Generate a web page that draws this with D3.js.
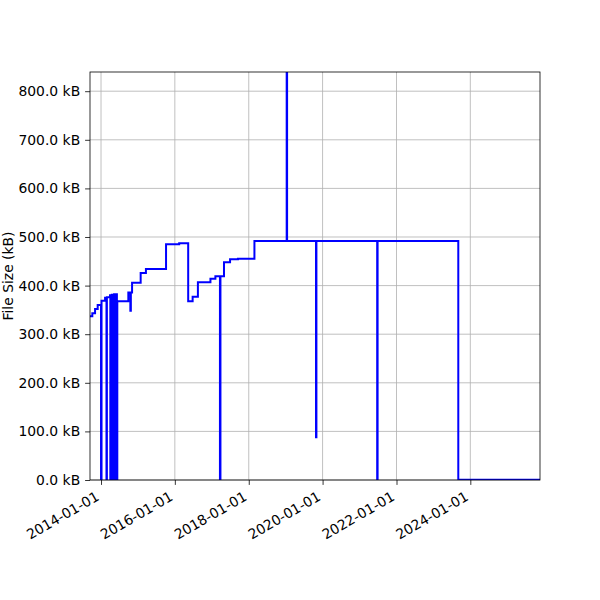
<!DOCTYPE html>
<html>
<head>
<meta charset="utf-8">
<script src="https://cdn.jsdelivr.net/npm/d3@7"></script>
<style>
    body { margin: 0; background: #ffffff; }
    text { font-family: "DejaVu Sans", sans-serif; }
</style>
</head>
<body>
<div id="chart"></div>
<script>
// file size history (kB)
const dates = [
    "2013-09-14", "2013-10-07", "2013-11-03", "2013-11-29", "2014-01-01", "2014-01-06",
    "2014-02-10", "2014-02-24", "2014-02-28", "2014-03-31", "2014-04-03", "2014-04-07",
    "2014-04-14", "2014-04-18", "2014-04-25", "2014-04-29", "2014-05-06", "2014-05-10",
    "2014-05-17", "2014-05-21", "2014-05-28", "2014-06-01", "2014-06-07", "2014-06-11",
    "2014-09-28", "2014-10-18", "2014-10-23", "2014-11-04", "2015-01-28", "2015-03-21",
    "2015-10-06", "2016-02-13", "2016-05-12", "2016-06-25", "2016-08-16", "2016-12-18",
    "2017-02-05", "2017-03-22", "2017-03-27", "2017-05-01", "2017-06-30", "2017-09-16",
    "2018-02-26", "2019-01-11", "2019-01-15", "2019-10-28", "2019-11-01", "2021-06-24",
    "2021-06-28", "2023-09-04", "2025-11-20"
];
const sizes = [
    337, 343, 352, 360, 0, 369,
    375, 0, 376, 380, 0, 380,
    0, 381, 0, 381, 0, 382,
    0, 382, 0, 382, 0, 368,
    386, 348, 386, 406, 426, 434,
    485, 487, 368, 377, 407, 414,
    419, 0, 419, 448, 454, 455,
    492, 900, 492, 88, 492, 0,
    492, 0.5, 0.5
];
const xTickLabels = ["2014-01-01", "2016-01-01", "2018-01-01", "2020-01-01", "2022-01-01", "2024-01-01"];
const yTickValues = [0, 100, 200, 300, 400, 500, 600, 700, 800];
const yMax = 839.5;

const margin = { top: 72, right: 60, bottom: 120, left: 90 };
const width = 600 - margin.left - margin.right;
const height = 600 - margin.top - margin.bottom;

const parse = d3.timeParse("%Y-%m-%d");
const data = dates.map((d, i) => ({ date: parse(d), size: sizes[i] }));

const svg = d3.select("#chart")
    .append("svg")
    .attr("width", 600)
    .attr("height", 600);

const g = svg.append("g")
    .attr("transform", `translate(${margin.left},${margin.top})`);

const xScale = d3.scaleTime()
    .domain(d3.extent(data, d => d.date))
    .range([0, width]);

const yScale = d3.scaleLinear()
    .domain([0, yMax])
    .range([height, 0]);

const xTicks = xTickLabels.map(parse);

// grid
g.append("g")
    .selectAll("line.xgrid")
    .data(xTicks)
    .join("line")
    .attr("x1", d => xScale(d))
    .attr("x2", d => xScale(d))
    .attr("y1", 0)
    .attr("y2", height)
    .attr("stroke", "#b0b0b0")
    .attr("stroke-width", 0.8);

g.append("g")
    .selectAll("line.ygrid")
    .data(yTickValues)
    .join("line")
    .attr("x1", 0)
    .attr("x2", width)
    .attr("y1", d => yScale(d))
    .attr("y2", d => yScale(d))
    .attr("stroke", "#b0b0b0")
    .attr("stroke-width", 0.8);

// clip so the spike stops at the frame
g.append("clipPath")
    .attr("id", "clip")
    .append("rect")
    .attr("width", width)
    .attr("height", height);

const line = d3.line()
    .x(d => xScale(d.date))
    .y(d => yScale(d.size))
    .curve(d3.curveStepAfter);

g.append("path")
    .datum(data)
    .attr("clip-path", "url(#clip)")
    .attr("fill", "none")
    .attr("stroke", "#0000ff")
    .attr("stroke-width", 2)
    .attr("stroke-linejoin", "miter")
    .attr("d", line);

// axes
const xAxis = g.append("g")
    .attr("transform", `translate(0,${height})`)
    .call(d3.axisBottom(xScale)
        .tickValues(xTicks)
        .tickFormat(d3.timeFormat("%Y-%m-%d"))
        .tickSizeInner(4.9)
        .tickSizeOuter(0)
        .tickPadding(4.9));

xAxis.selectAll("text")
    .style("font-size", "13.9px")
    .attr("fill", "#000")
    .style("text-anchor", "end")
    .attr("dy", "0.8em")
    .attr("y", 0)
    .attr("transform", "translate(-7,9.8) rotate(-30)");

const yAxis = g.append("g")
    .call(d3.axisLeft(yScale)
        .tickValues(yTickValues)
        .tickFormat(d => d3.format(".1f")(d) + " kB")
        .tickSizeInner(4.9)
        .tickSizeOuter(0)
        .tickPadding(4.9));

yAxis.selectAll("text")
    .style("font-size", "13.9px")
    .attr("fill", "#000");

g.selectAll(".domain").remove();
g.selectAll(".tick line").attr("stroke", "#000").attr("stroke-width", 0.8);

// frame
g.append("rect")
    .attr("width", width)
    .attr("height", height)
    .attr("fill", "none")
    .attr("stroke", "#000")
    .attr("stroke-width", 0.8);

// y label
svg.append("text")
    .attr("transform", `translate(13,${margin.top + height / 2}) rotate(-90)`)
    .style("text-anchor", "middle")
    .style("font-size", "13.9px")
    .text("File Size (kB)");
</script>
</body>
</html>
